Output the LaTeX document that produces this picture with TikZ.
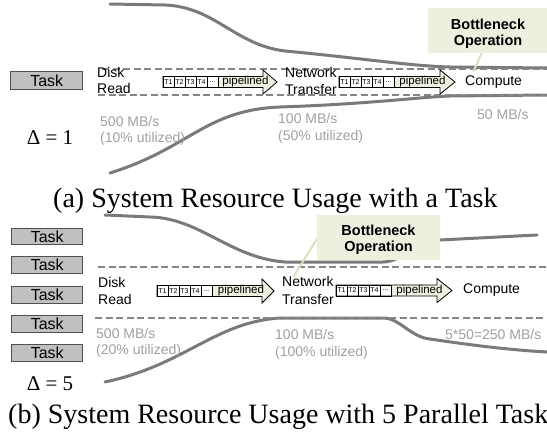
\documentclass[tikz,border=0pt]{standalone}
\usepackage{fontspec}
\setmainfont{Liberation Serif}
\newfontfamily\arialfont{Liberation Sans}
\definecolor{curvegray}{HTML}{7A7A7A}
\definecolor{dashgray}{HTML}{858585}
\definecolor{labgray}{HTML}{A0A0A0}
\definecolor{taskfill}{HTML}{C0C0C0}
\definecolor{taskedge}{HTML}{505050}
\definecolor{bnfill}{HTML}{EBF1DE}
\definecolor{ptrcol}{HTML}{D7E4BD}
\definecolor{pipefill}{HTML}{EBF1DE}
\tikzset{
 flow/.style={draw=curvegray, line width=3pt, line cap=round},
 lane/.style={draw=dashgray, line width=2.5pt, dash pattern=on 7pt off 3.5pt},
 lbl/.style={font=\arialfont\fontsize{14}{16}\selectfont, inner sep=0pt, anchor=base west},
 glbl/.style={lbl, text=labgray},
 taskbox/.style={draw=taskedge, fill=taskfill, line width=1pt, font=\arialfont\fontsize{16}{18}\selectfont, inner sep=0pt},
 bnbox/.style={fill=bnfill, inner sep=0pt},
 bntext/.style={font=\arialfont\bfseries\fontsize{14.5}{16}\selectfont, inner sep=0pt, anchor=base},
 ptr/.style={draw=ptrcol, line width=2pt},
 cell/.style={draw=black, line width=0.6pt, fill=white, font=\arialfont\fontsize{7}{8}\selectfont, inner sep=0pt, minimum width=11pt, minimum height=11pt},
 pipetext/.style={font=\arialfont\fontsize{11.5}{13}\selectfont, inner sep=0pt},
 deltatext/.style={font=\fontsize{21}{24}\selectfont, inner sep=0pt, anchor=base},
 captext/.style={font=\fontsize{28}{30}\selectfont, inner sep=0pt, anchor=base west},
}
% #1 x0, #2 y, #3 head start, #4 tip, #5 name prefix
\newcommand{\pipeline}[5]{%
 \fill[pipefill] (#1+55,#2-5.5) -- (#3,#2-5.5) -- (#3,#2-12) -- (#4,#2) -- (#3,#2+12) -- (#3,#2+5.5) -- (#1+55,#2+5.5) -- cycle;
 \foreach \i in {0,1,2,3} {\pgfmathtruncatemacro{\j}{\i+1}\node[cell] (#5-c\i) at (#1+5.5+11*\i,#2) {T\j};}
 \node[cell] (#5-c4) at (#1+49.5,#2) {...};
 \draw[line width=0.8pt] (#1,#2-5.5) -- (#3,#2-5.5) -- (#3,#2-12) -- (#4,#2) -- (#3,#2+12) -- (#3,#2+5.5) -- (#1,#2+5.5) -- cycle;
 \node[pipetext] (#5-t) at ({(#1+55+#4)/2-2},#2) {pipelined};
}
\begin{document}
\begin{tikzpicture}[x=1pt,y=-1pt]
\useasboundingbox (0,0) rectangle (547,434);

% ---------------- panel (a) ----------------
\draw[flow] (110,4) -- (165,5) .. controls (215,7) and (235,45) .. (285,51)
  .. controls (360,58) and (410,66) .. (450,67) -- (547,68);
\draw[flow] (110,173) .. controls (190,148) and (205,110) .. (280,107)
  .. controls (370,104) and (420,97) .. (450,96) -- (547,95);
\draw[lane] (102,69) -- (547,69);
\draw[lane] (98,95) -- (547,95);

\node[taskbox, minimum width=72pt, minimum height=18pt] (taskA) at (46.7,80.8) {Task};
\node[deltatext] (deltaA) at (50,144) {Δ = 1};

\node[lbl] (diskA1) at (97,77) {Disk};
\node[lbl] (diskA2) at (97,93.5) {Read};
\node[lbl] (netA1) at (285,77) {Network};
\node[lbl] (netA2) at (285,94) {Transfer};
\node[lbl] (compA) at (465,85.5) {Compute};
\node[glbl] (rateA1) at (100,126) {500 MB/s};
\node[glbl] (utilA1) at (100,142.5) {(10\% utilized)};
\node[glbl] (rateA2) at (278,123.3) {100 MB/s};
\node[glbl] (utilA2) at (278,140) {(50\% utilized)};
\node[glbl] (rateA3) at (477,119.3) {50 MB/s};

\pipeline{163}{82}{263}{277}{pa1}
\pipeline{339}{82}{440}{455}{pa2}

\coordinate (ptrA1) at (481.7,53);
\coordinate (ptrA2) at (473.3,71.7);
\draw[ptr] (ptrA1) -- (ptrA2);
\node[bnbox, minimum width=120pt, minimum height=45pt] (bnA) at (488,30.5) {};
\node[bntext] (bnA1) at (488,29) {Bottleneck};
\node[bntext] (bnA2) at (488,45) {Operation};

\node[captext] (capA) at (53,207) {(a) System Resource Usage with a Task};

% ---------------- panel (b) ----------------
\draw[flow] (105,215) -- (150,217) .. controls (200,218) and (230,258) .. (285,262)
  -- (383,262) .. controls (400,262) and (420,242) .. (440,240) -- (537,235);
\draw[flow] (105,382) .. controls (185,365) and (215,322) .. (280,318) -- (383,318)
  .. controls (400,318) and (410,337) .. (430,339) .. controls (470,345) and (510,350) .. (547,352);
\draw[lane] (98,267) -- (547,267);
\draw[lane] (95,318) -- (547,318);

\foreach \k/\yy in {1/236.7,2/265,3/295,4/323.8,5/352.8}
  \node[taskbox, minimum width=71pt, minimum height=16.5pt] (taskB\k) at (47.2,\yy) {Task};
\node[deltatext] (deltaB) at (50,390) {Δ = 5};

\node[lbl] (diskB1) at (98,287.3) {Disk};
\node[lbl] (diskB2) at (98,304) {Read};
\node[lbl] (netB1) at (282,286.7) {Network};
\node[lbl] (netB2) at (282,304) {Transfer};
\node[lbl] (compB) at (463,293.5) {Compute};
\node[glbl] (rateB1) at (96,338) {500 MB/s};
\node[glbl] (utilB1) at (96,354) {(20\% utilized)};
\node[glbl] (rateB2) at (275,339.3) {100 MB/s};
\node[glbl] (utilB2) at (275,356) {(100\% utilized)};
\node[glbl] (rateB3) at (445,339) {5*50=250 MB/s};

\pipeline{157}{291}{262}{274}{pb1}
\pipeline{336}{290.5}{437}{452}{pb2}

\coordinate (ptrB1) at (317.3,238.3);
\coordinate (ptrB2) at (293.3,277);
\draw[ptr] (ptrB1) -- (ptrB2);
\node[bnbox, minimum width=123pt, minimum height=45pt] (bnB) at (378.5,237.5) {};
\node[bntext] (bnB1) at (378.5,235) {Bottleneck};
\node[bntext] (bnB2) at (378.5,251.7) {Operation};

\node[captext] (capB) at (8,423) {(b) System Resource Usage with 5 Parallel Tasks};
\end{tikzpicture}
\end{document}
